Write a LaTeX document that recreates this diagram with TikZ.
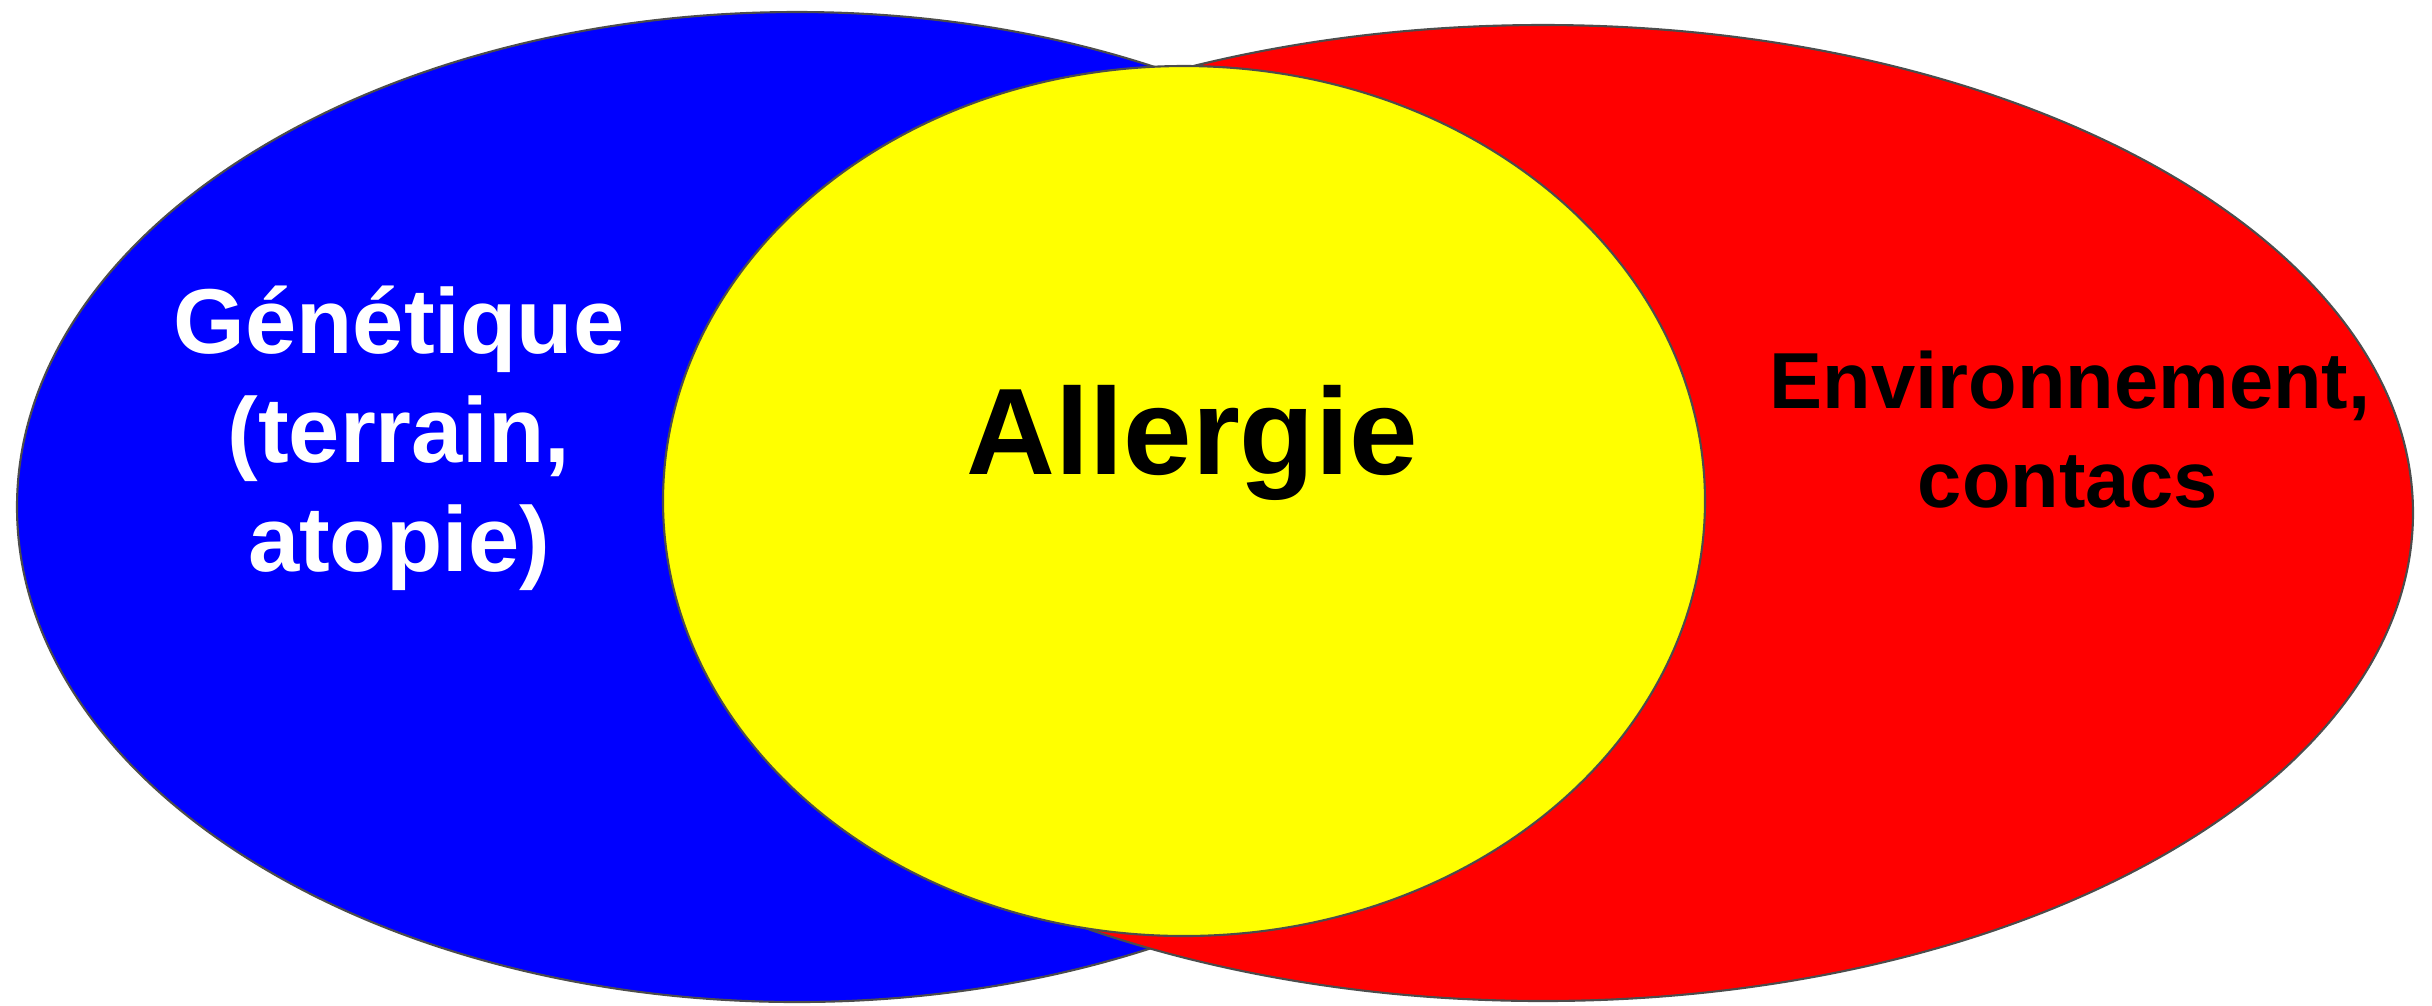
\documentclass[tikz,border=0pt]{standalone}
\usepackage{fontspec}
\setmainfont{Liberation Sans}
\begin{document}
\begin{tikzpicture}[x=0.01cm,y=-0.01cm,
  blob/.style={draw=black!70,line width=0.6pt},
  lbl/.style={anchor=base,inner sep=0pt,font=\bfseries}]
\useasboundingbox (0,0) rectangle (2432,1005);
\path[blob,fill={rgb,255:red,0;green,0;blue,255}] (797,507) ellipse [x radius=780,y radius=495];
\path[blob,fill={rgb,255:red,255;green,0;blue,0}] (1543,513) ellipse [x radius=870,y radius=488];
\path[blob,fill={rgb,255:red,255;green,255;blue,0}] (1184,501) ellipse [x radius=521,y radius=435];
\node[lbl,text=white,font=\bfseries\fontsize{26.2}{31}\selectfont] (g1) at (399,353) {Génétique};
\node[lbl,text=white,font=\bfseries\fontsize{26.2}{31}\selectfont] (g2) at (399,462) {(terrain,};
\node[lbl,text=white,font=\bfseries\fontsize{26.2}{31}\selectfont] (g3) at (399,571) {atopie)};
\node[lbl,font=\bfseries\fontsize{35}{40}\selectfont] (al) at (1192,474) {Allergie};
\node[lbl,font=\bfseries\fontsize{22.6}{28}\selectfont] (e1) at (2070,408) {Environnement,};
\node[lbl,font=\bfseries\fontsize{22.6}{28}\selectfont] (e2) at (2068,507) {contacs};
\end{tikzpicture}
\end{document}
